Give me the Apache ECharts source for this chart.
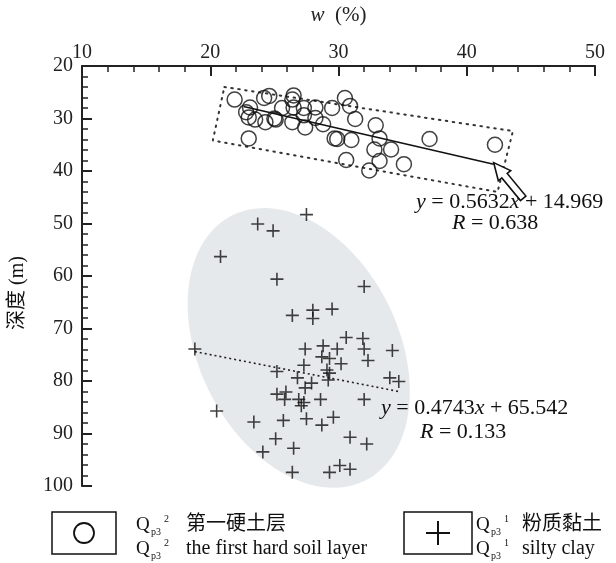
<!DOCTYPE html>
<html>
<head>
<meta charset="utf-8">
<script src="https://cdn.jsdelivr.net/npm/echarts@6/dist/echarts.min.js"></script>
<style>
html,body{margin:0;padding:0;background:#fff;}
#main{width:616px;height:563px;}
</style>
</head>
<body>
<div id="main"></div>
<script>
/* 第一硬土层 Qp3^2 : 含水率 w(%) 与 深度(m) */
var hardW     = [21.9, 23.1, 22.8, 23.0, 23.5, 24.2, 24.6, 24.3, 25.1, 25.6, 26.5, 26.4, 26.5, 26.4, 27.3, 27.3, 27.4, 28.2, 28.2, 28.8,
                 29.5, 29.7, 30.5, 30.9, 31.3, 31.0, 30.6, 32.9, 33.2, 32.8, 34.1, 33.2, 32.4, 35.1, 37.1, 42.2, 23.0, 25.0, 29.9];
var hardDepth = [26.4, 27.9, 28.8, 29.8, 30.2, 26.1, 25.7, 30.7, 30.2, 28.0, 25.6, 26.4, 27.9, 30.7, 28.0, 29.4, 31.7, 27.9, 29.9, 31.1,
                 28.0, 33.8, 26.1, 27.6, 30.1, 34.1, 37.9, 31.3, 33.8, 35.9, 35.9, 38.1, 39.9, 38.7, 33.9, 35.0, 33.8, 30.0, 33.9];

/* 粉质黏土 Qp3^1 */
var clayW     = [27.5, 23.7, 24.9, 20.8, 25.2, 32.0, 26.4, 28.0, 28.0, 29.5, 30.6, 31.9, 18.8, 27.4, 28.8, 29.9, 32.0, 34.2, 28.7, 29.3,
                 32.3, 27.3, 30.2, 25.2, 29.1, 29.3, 26.8, 29.2, 27.9, 27.4, 34.0, 34.7, 25.2, 25.9, 25.8, 26.9, 27.3, 27.1, 28.6, 32.0,
                 20.5, 23.4, 25.7, 27.5, 28.7, 29.6, 25.1, 24.1, 26.5, 30.9, 32.2, 26.4, 29.3, 30.1, 30.9];
var clayDepth = [48.3, 50.1, 51.4, 56.3, 60.6, 62.0, 67.5, 66.5, 68.1, 66.3, 71.7, 71.9, 73.9, 73.9, 73.3, 73.9, 73.9, 74.2, 75.4, 75.7,
                 76.1, 77.0, 76.7, 78.2, 77.9, 78.5, 79.4, 79.8, 80.4, 81.3, 79.4, 80.1, 82.5, 82.1, 83.5, 83.5, 84.1, 84.7, 83.5, 83.5,
                 85.7, 87.8, 87.5, 87.2, 88.4, 86.9, 91.0, 93.5, 92.8, 90.7, 92.0, 97.4, 97.4, 96.1, 96.8];

// 拟合线两端
var hardFit = [[22.6, 27.7], [42.1, 38.7]];
var clayFit = [[18.8, 74.4], [34.7, 82.0]];
// 虚线框 四角
var hardBox = [[21.1, 24.0], [43.6, 32.4], [42.4, 44.0], [20.2, 34.2]];
// 阴影椭圆: 中心 + 两个半轴向量 (数据单位)
var ellCenter = [26.9, 73.7];
var ellAxisA = [5.06, 25.4];
var ellAxisB = [7.03, -8.03];
// 空心箭头 尾 -> 头
var arrowTail = [44.4, 45.2];
var arrowHead = [42.1, 38.4];

var xMin = 10, xMax = 50, xStep = 10;
var yMin = 20, yMax = 100, yStep = 10;

var serif = 'Liberation Serif';

function zip(a, b) {
  var out = [];
  for (var i = 0; i < a.length; i++) out.push([a[i], b[i]]);
  return out;
}

var chart = echarts.init(document.getElementById('main'), null, {renderer: 'canvas'});

var option = {
  backgroundColor: '#fff',
  animation: false,
  grid: {left: 82, right: 21, top: 54, bottom: 77},
  xAxis: {
    type: 'value', position: 'top', min: xMin, max: xMax, interval: xStep,
    name: '{i|w}  (%)', nameLocation: 'middle', nameGap: 40,
    nameTextStyle: {fontFamily: serif, fontSize: 21, color: '#222',
      rich: {i: {fontFamily: serif, fontSize: 21, fontStyle: 'italic', color: '#222'}}},
    axisLine: {show: true, lineStyle: {color: '#222', width: 2}},
    axisTick: {inside: true, length: 10, lineStyle: {color: '#222', width: 2}},
    minorTick: {show: true, splitNumber: 5, length: 6, lineStyle: {color: '#222', width: 1.5}},
    axisLabel: {fontFamily: serif, fontSize: 20, color: '#222', margin: 3},
    splitLine: {show: false}
  },
  yAxis: {
    type: 'value', inverse: true, min: yMin, max: yMax, interval: yStep,
    axisLine: {show: true, lineStyle: {color: '#222', width: 2}},
    axisTick: {inside: true, length: 10, lineStyle: {color: '#222', width: 2}},
    minorTick: {show: true, splitNumber: 5, length: 6, lineStyle: {color: '#222', width: 1.5}},
    axisLabel: {fontFamily: serif, fontSize: 20, color: '#222', margin: 9},
    splitLine: {show: false}
  },
  series: [
    {
      // 阴影椭圆
      type: 'custom', silent: true, z: 1,
      data: [ellCenter],
      renderItem: function (params, api) {
        var pts = [];
        for (var k = 0; k < 120; k++) {
          var t = k / 120 * Math.PI * 2;
          pts.push(api.coord([
            ellCenter[0] + Math.cos(t) * ellAxisA[0] + Math.sin(t) * ellAxisB[0],
            ellCenter[1] + Math.cos(t) * ellAxisA[1] + Math.sin(t) * ellAxisB[1]
          ]));
        }
        return {type: 'polygon', shape: {points: pts}, style: {fill: '#e6e9ec'}};
      }
    },
    {
      // 虚线框
      type: 'line', silent: true, z: 2, symbol: 'none',
      data: hardBox.concat([hardBox[0]]),
      lineStyle: {color: '#333', width: 2, type: [1.5, 5.5], cap: 'round'}
    },
    {
      type: 'line', silent: true, z: 3, symbol: 'none',
      data: hardFit,
      lineStyle: {color: '#111', width: 1.6}
    },
    {
      type: 'line', silent: true, z: 3, symbol: 'none',
      data: clayFit,
      lineStyle: {color: '#222', width: 1.6, type: [2, 3]}
    },
    {
      name: '第一硬土层', type: 'scatter', z: 4,
      symbol: 'circle', symbolSize: 15,
      data: zip(hardW, hardDepth),
      itemStyle: {color: 'rgba(0,0,0,0)', borderColor: '#111', borderWidth: 1.5}
    },
    {
      name: '粉质黏土', type: 'scatter', z: 4,
      symbol: 'path://M0,10L20,10M10,0L10,20', symbolSize: 13,
      data: zip(clayW, clayDepth),
      itemStyle: {color: 'rgba(0,0,0,0)', borderColor: '#111', borderWidth: 1.6}
    },
    {
      // 空心箭头
      type: 'custom', silent: true, z: 5,
      data: [arrowHead],
      renderItem: function (params, api) {
        var h = api.coord(arrowHead), t = api.coord(arrowTail);
        var dx = h[0] - t[0], dy = h[1] - t[1];
        var len = Math.sqrt(dx * dx + dy * dy);
        dx /= len; dy /= len;
        var nx = -dy, ny = dx;
        var hl = 17, hw = 8, sw = 3.5;
        var b = [h[0] - dx * hl, h[1] - dy * hl];
        return {
          type: 'polygon',
          shape: {points: [
            h,
            [b[0] + nx * hw, b[1] + ny * hw],
            [b[0] + nx * sw, b[1] + ny * sw],
            [t[0] + nx * sw, t[1] + ny * sw],
            [t[0] - nx * sw, t[1] - ny * sw],
            [b[0] - nx * sw, b[1] - ny * sw],
            [b[0] - nx * hw, b[1] - ny * hw]
          ]},
          style: {fill: '#fff', stroke: '#111', lineWidth: 1.6}
        };
      }
    }
  ]
};

var richEq = {
  i: {fontFamily: serif, fontSize: 22, fontStyle: 'italic', fill: '#111'},
  n: {fontFamily: serif, fontSize: 22, fill: '#111'}
};
function eqText(x, y, txt) {
  return {type: 'text', x: x, y: y, z: 10,
    style: {text: txt, rich: richEq, font: '22px ' + serif, fill: '#111', verticalAlign: 'middle'}};
}
// Q_p3^n 标记
function qLabel(x, y, sup) {
  return {type: 'group', x: x, y: y, children: [
    {type: 'text', x: 0, y: 0, style: {text: 'Q', font: '19px ' + serif, fill: '#111', verticalAlign: 'middle'}},
    {type: 'text', x: 15, y: 7, style: {text: 'p3', font: '10px ' + serif, fill: '#111', verticalAlign: 'middle'}},
    {type: 'text', x: 28, y: -6, style: {text: sup, font: '10px ' + serif, fill: '#111', verticalAlign: 'middle'}}
  ]};
}
var cjk = '20px ' + serif + ', "Noto Sans CJK SC"';

option.graphic = [
  eqText(416, 202, '{i|y}{n| = 0.5632}{i|x}{n| + 14.969}'),
  eqText(452, 223, '{i|R}{n| = 0.638}'),
  eqText(381, 408, '{i|y}{n| = 0.4743}{i|x}{n| + 65.542}'),
  eqText(420, 432, '{i|R}{n| = 0.133}'),
  {type: 'text', x: 18, y: 293, rotation: Math.PI / 2,
    style: {text: '深度 (m)', font: cjk, fill: '#111', align: 'center', verticalAlign: 'middle'}},
  // 图例
  {type: 'rect', shape: {x: 52, y: 512, width: 64, height: 42}, style: {fill: 'none', stroke: '#111', lineWidth: 1.5}},
  {type: 'circle', shape: {cx: 84, cy: 533, r: 10}, style: {fill: 'none', stroke: '#111', lineWidth: 1.8}},
  qLabel(136, 525, '2'),
  qLabel(136, 549, '2'),
  {type: 'text', x: 186, y: 525, style: {text: '第一硬土层', font: cjk, fill: '#111', verticalAlign: 'middle'}},
  {type: 'text', x: 186, y: 549, style: {text: 'the first hard soil layer', font: cjk, fill: '#111', verticalAlign: 'middle'}},
  {type: 'rect', shape: {x: 404, y: 512, width: 68, height: 42}, style: {fill: 'none', stroke: '#111', lineWidth: 1.5}},
  {type: 'polyline', shape: {points: [[426, 533], [450, 533]]}, style: {stroke: '#111', lineWidth: 2}},
  {type: 'polyline', shape: {points: [[438, 521], [438, 545]]}, style: {stroke: '#111', lineWidth: 2}},
  qLabel(476, 525, '1'),
  qLabel(476, 549, '1'),
  {type: 'text', x: 522, y: 525, style: {text: '粉质黏土', font: cjk, fill: '#111', verticalAlign: 'middle'}},
  {type: 'text', x: 522, y: 549, style: {text: 'silty clay', font: cjk, fill: '#111', verticalAlign: 'middle'}}
];

chart.setOption(option);
</script>
</body>
</html>
